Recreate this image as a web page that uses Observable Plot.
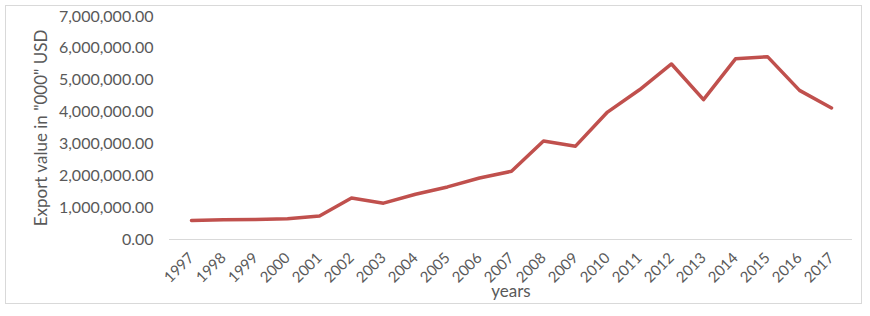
<!DOCTYPE html>
<html>
<head>
<meta charset="utf-8">
<script src="https://cdn.jsdelivr.net/npm/d3@7"></script>
<script src="https://cdn.jsdelivr.net/npm/@observablehq/plot@0.6"></script>
<style>
  html, body { margin: 0; padding: 0; background: #fff; }
  #wrap { position: relative; width: 870px; height: 316px; }
  #border { position: absolute; left: 5px; top: 5px; width: 855px; height: 297px;
            border: 1.5px solid #d9d9d9; pointer-events: none; }
</style>
</head>
<body>
<div id="wrap"><div id="chart"></div><div id="border"></div></div>
<script>
const years = ["1997","1998","1999","2000","2001","2002","2003","2004","2005","2006","2007",
               "2008","2009","2010","2011","2012","2013","2014","2015","2016","2017"];
const exportValues = [600000, 620000, 630000, 650000, 740000, 1300000, 1140000, 1420000,
                      1650000, 1930000, 2140000, 3090000, 2930000, 4000000, 4700000, 5510000,
                      4390000, 5670000, 5740000, 4680000, 4130000];
const yTicks = [0, 1000000, 2000000, 3000000, 4000000, 5000000, 6000000, 7000000];
const xLabel = "years";
const yLabel = 'Export value in "000" USD';

const data = years.map((year, i) => ({year, value: exportValues[i]}));

const chart = Plot.plot({
  width: 870,
  height: 316,
  marginLeft: 169,
  marginRight: 18,
  marginTop: 16,
  marginBottom: 77,
  style: {fontFamily: "Lato, sans-serif", fontSize: "16px", color: "#595959", background: "#fff", overflow: "visible"},
  x: {type: "point", domain: years, padding: 0.5},
  y: {domain: [0, 7000000]},
  marks: [
    Plot.axisY({ticks: yTicks, tickFormat: d3.format(",.2f"), tickSize: 0, tickPadding: 16,
                label: null, fill: "#595959"}),
    Plot.axisX({tickSize: 0, tickPadding: 16, tickRotate: -45, label: null,
                fill: "#595959", fontSize: 15}),
    Plot.text([yLabel], {frameAnchor: "left", rotate: -90, dx: -128, fill: "#595959",
                         fontSize: 17, textAnchor: "middle", lineAnchor: "middle"}),
    Plot.text([xLabel], {frameAnchor: "bottom", dy: 52, fill: "#595959",
                         fontSize: 17, textAnchor: "middle", lineAnchor: "middle"}),
    Plot.ruleY([0], {stroke: "#d9d9d9", strokeWidth: 1.2, strokeOpacity: 1}),
    Plot.line(data, {x: "year", y: "value", stroke: "#c0504d", strokeWidth: 3.5, strokeLinejoin: "round"})
  ]
});
document.getElementById("chart").appendChild(chart);
</script>
</body>
</html>
